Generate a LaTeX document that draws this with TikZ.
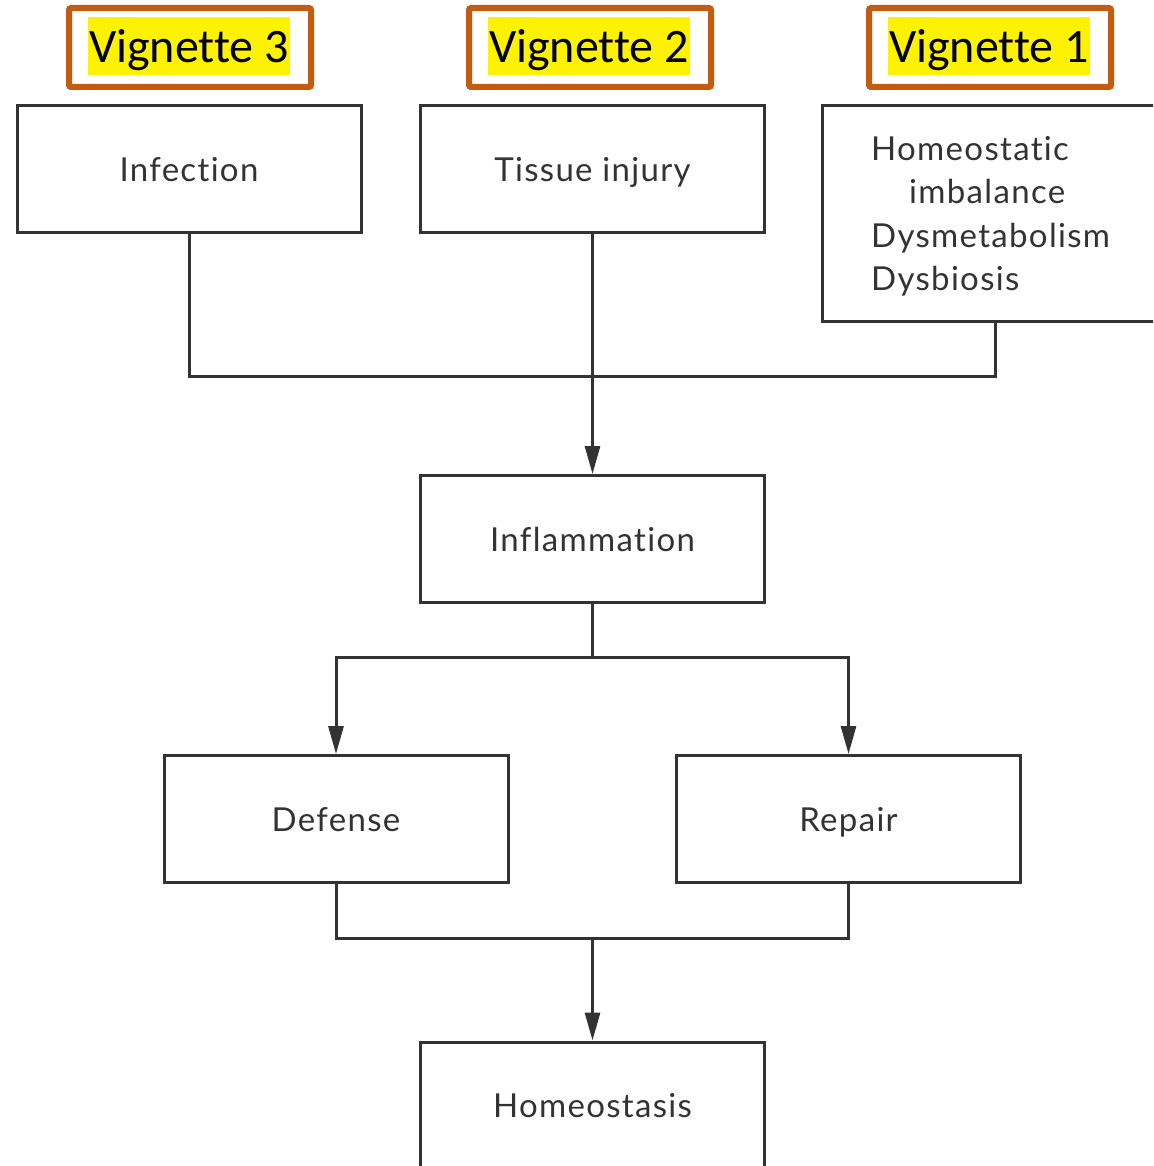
\documentclass[tikz,border=0pt]{standalone}
\usepackage{fontspec}
\setmainfont{Lato}[LetterSpace=4,Ligatures=NoCommon]
\newfontfamily\calib{Carlito}[Ligatures=NoCommon]
\usetikzlibrary{arrows.meta}
\definecolor{vorange}{HTML}{C55A11}
\definecolor{lc}{HTML}{333333}
\begin{document}
\begin{tikzpicture}[x=1pt,y=-1pt,
  box/.style={draw=lc, line width=3pt, minimum width=344pt, minimum height=127pt,
    inner sep=0pt, text height=24pt, text depth=0pt, text=lc,
    font=\fontsize{33}{43.5}\selectfont},
  plainbox/.style={draw=lc, line width=3pt, inner sep=0pt},
  multitext/.style={inner sep=0pt, align=left, text=lc, font=\fontsize{33}{43.5}\selectfont},
  vbox/.style={draw=vorange, line width=6pt, rounded corners=2pt, minimum width=242pt, minimum height=79pt},
  vlab/.style={fill=yellow, inner xsep=1pt, inner ysep=0pt, text height=46pt, text depth=12pt,
    font=\calib\fontsize{48}{56}\selectfont},
  conn/.style={draw=lc, line width=3pt},
  arr/.style={conn, -{Triangle[length=28pt,width=15pt]}}]
\useasboundingbox (0,0) rectangle (1153,1166);
\clip (0,0) rectangle (1153,1166);
% vignette labels
\node[vbox] (v3b) at (190,47.5) {};
\node[vlab] (v3) at (189,46) {Vignette 3};
\node[vbox] (v2b) at (590,47.5) {};
\node[vlab] (v2) at (589,46) {Vignette 2};
\node[vbox] (v1b) at (990,47.5) {};
\node[vlab] (v1) at (989,46) {Vignette 1};
% boxes
\node[box] (inf) at (189,169.5) {Infection};
\node[box] (tis) at (592.5,169.5) {Tissue injury};
\node[plainbox, minimum width=346pt, minimum height=215pt] (hom) at (995,213.5) {};
\node[multitext, anchor=north west] (homt) at (871,136) {Homeostatic\\\hspace*{38pt}imbalance\\Dysmetabolism\\Dysbiosis};
\node[box] (inl) at (592.5,539) {Inflammation};
\node[box] (def) at (336,819) {Defense};
\node[box] (rep) at (848.5,819) {Repair};
\node[box] (hos) at (592.5,1105.5) {Homeostasis};
% junctions
\coordinate (j1) at (592.5,376);
\coordinate (j2) at (592.5,657);
\coordinate (j3) at (592.5,938);
% connectors
\draw[conn] (inf.south) |- (j1) -| (hom.south);
\draw[arr] (tis.south) -- (inl.north);
\draw[conn] (inl.south) -- (j2);
\draw[arr] (j2) -| (def.north);
\draw[arr] (j2) -| (rep.north);
\draw[conn] (def.south) |- (j3) -| (rep.south);
\draw[arr] (j3) -- (hos.north);
\end{tikzpicture}
\end{document}
